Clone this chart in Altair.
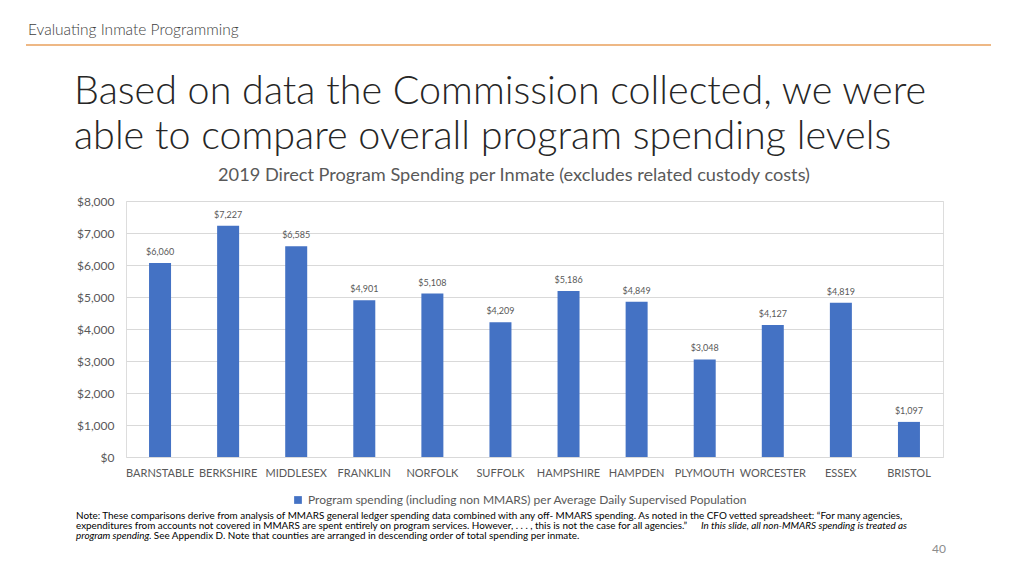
import altair as alt
import pandas as pd

counties = ["BARNSTABLE", "BERKSHIRE", "MIDDLESEX", "FRANKLIN", "NORFOLK", "SUFFOLK",
            "HAMPSHIRE", "HAMPDEN", "PLYMOUTH", "WORCESTER", "ESSEX", "BRISTOL"]
spending = [6060, 7227, 6585, 4901, 5108, 4209, 5186, 4849, 3048, 4127, 4819, 1097]
series_name = "Program spending (including non MMARS) per Average Daily Supervised Population"
y_ticks = [0, 1000, 2000, 3000, 4000, 5000, 6000, 7000, 8000]

header = "Evaluating Inmate Programming"
title_lines = ["Based on data the Commission collected, we were",
               "able to compare overall program spending levels"]
subtitle = "2019 Direct Program Spending per Inmate (excludes related custody costs)"
note_l1 = ("Note:  These comparisons derive from analysis of MMARS general ledger spending data combined with any off- "
           "MMARS spending. As noted in the CFO vetted spreadsheet: \u201cFor many agencies,")
note_l2a = ("expenditures from accounts not covered in MMARS are spent entirely on program services. However, . . . , "
            "this is not the case for all agencies.\u201d")
note_l2b = "In this slide, all non-MMARS spending is treated as"
note_l3a = "program spending"
note_l3b = ". See Appendix D.  Note that counties are arranged in descending order of total spending per inmate."
page_no = "40"

# plot origin on page
OX, OY = 126, 201
W, H = 817, 256
FONT = "Lato"

df = pd.DataFrame({"county": counties, "value": spending, "series": series_name})
df["label"] = ["$" + format(v, ",") for v in spending]

x_enc = alt.X("county:N", sort=counties, title=None,
              scale=alt.Scale(paddingInner=0, paddingOuter=0),
              axis=alt.Axis(labelAngle=0, ticks=False, domain=False, grid=False, labelFontSize=11,
                            labelColor="#595959", labelFont=FONT, labelPadding=10))
y_enc = alt.Y("value:Q", title=None, scale=alt.Scale(domain=[0, 8000], nice=False),
              axis=alt.Axis(values=y_ticks, format="$,.0f", ticks=False, domain=False,
                            labelFontSize=12, labelColor="#595959", labelFont=FONT,
                            labelOverlap=False, labelPadding=12, gridColor="#D9D9D9"))

bars = alt.Chart(df).mark_bar(size=22).encode(
    x=x_enc, y=y_enc,
    color=alt.Color("series:N", scale=alt.Scale(range=["#4472C4"]),
                    legend=alt.Legend(orient="none", legendX=166, legendY=293, title=None,
                                      symbolType="square", symbolSize=60, labelFontSize=12,
                                      labelFont=FONT, labelColor="#595959", labelLimit=0,
                                      symbolStrokeWidth=0)))
labels = alt.Chart(df).mark_text(baseline="bottom", dy=-6, fontSize=9, font=FONT,
                                 color="#595959").encode(
    x=x_enc, y=y_enc, text="label:N")


def txt(s, px, py, size, color="#000000", align="left", style="normal", weight="normal", baseline="middle"):
    d = pd.DataFrame({"t": [s]})
    return alt.Chart(d).mark_text(align=align, baseline=baseline, fontSize=size, font=FONT,
                                  color=color, fontStyle=style, fontWeight=weight).encode(
        x=alt.value(px - OX), y=alt.value(py - OY), text="t:N")


rule = alt.Chart(pd.DataFrame({"a": [0]})).mark_rule(color="#E8A15C", strokeWidth=1.5).encode(
    x=alt.value(26 - OX), x2=alt.value(991 - OX), y=alt.value(45 - OY))

layers = [
    bars, labels, rule,
    txt(header, 28, 30, 15.5, "#404040", weight=300),
    txt(title_lines[0], 74, 92, 39.5, "#262626", weight=300),
    txt(title_lines[1], 74, 137, 39.5, "#262626", weight=300),
    txt(subtitle, 514, 176, 18.2, "#595959", align="center"),
    txt(note_l1, 76, 516, 9.9),
    txt(note_l2a, 76, 526, 9.9),
    txt(note_l2b, 701, 526, 9.9, style="italic"),
    txt(note_l3a, 76, 536, 9.9, style="italic"),
    txt(note_l3b, 149, 536, 9.9),
    txt(page_no, 946, 549, 12, "#8C8C8C", align="right"),
]

chart = alt.layer(*layers).properties(
    width=W, height=H,
    autosize=alt.AutoSizeParams(type="none"),
    padding={"left": OX - 8, "top": OY - 8, "right": 1008 - (OX - 8) - W, "bottom": 560 - (OY - 8) - H},
).configure_view(strokeWidth=0, stroke="transparent").configure(background="white")

chart.save("out.html", embed_options={"renderer": "svg", "actions": False})
